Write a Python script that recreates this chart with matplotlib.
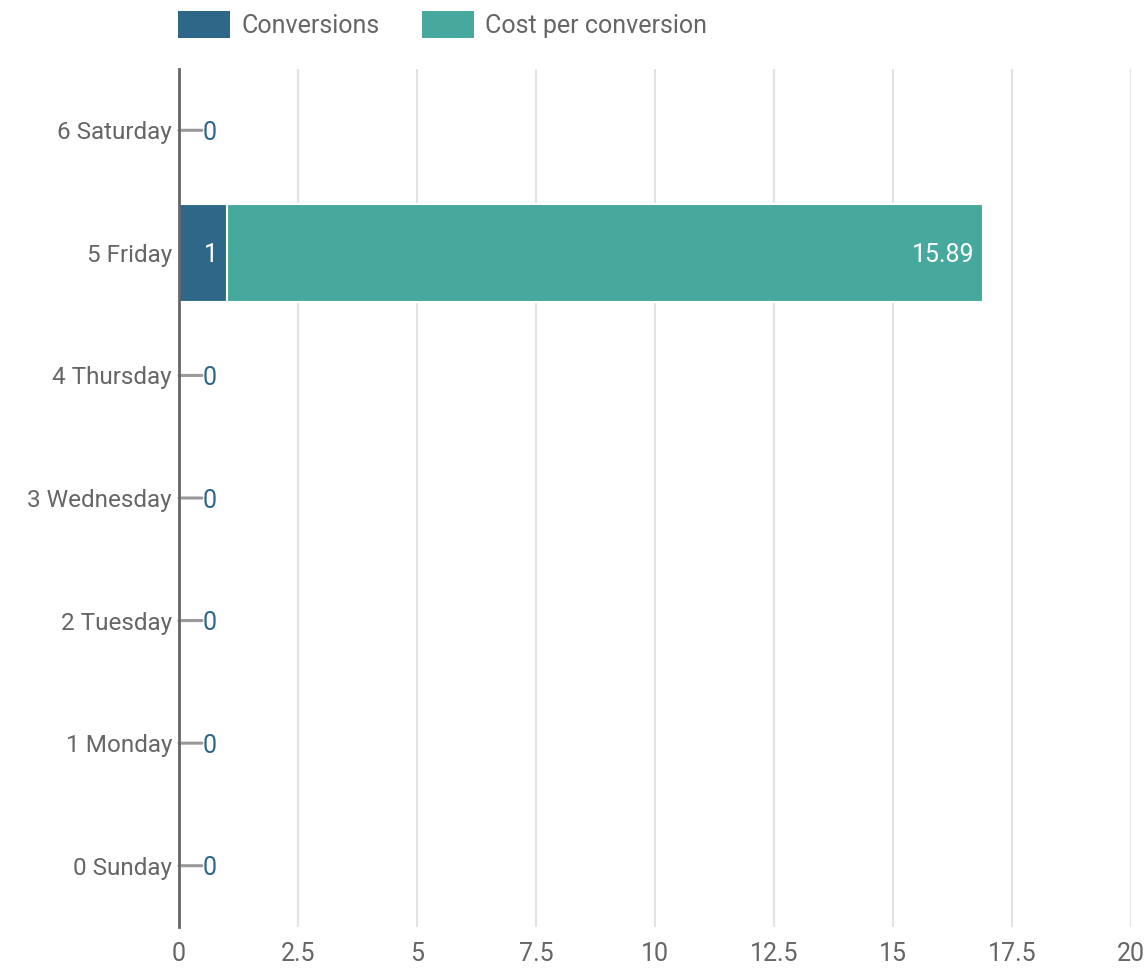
import matplotlib
matplotlib.use("Agg")
import matplotlib.pyplot as plt
from matplotlib.patches import Patch

days = ["0 Sunday", "1 Monday", "2 Tuesday", "3 Wednesday", "4 Thursday", "5 Friday", "6 Saturday"]
conversions = [0, 0, 0, 0, 0, 1, 0]
cost_per_conversion = [0, 0, 0, 0, 0, 15.89, 0]
x_ticks = [0, 2.5, 5, 7.5, 10, 12.5, 15, 17.5, 20]
x_tick_labels = ["0", "2.5", "5", "7.5", "10", "12.5", "15", "17.5", "20"]

c_conv = "#2f6788"
c_cost = "#47a99e"
text_grey = "#666666"

plt.rcParams["font.family"] = ["Roboto", "DejaVu Sans"]

fig = plt.figure(figsize=(11.48, 9.68), dpi=100)
ax = fig.add_axes([179 / 1148, 41 / 968, 952 / 1148, 858 / 968])

y = list(range(len(days)))
bar_h = 0.8
ax.barh(y, conversions, height=bar_h, color=c_conv, edgecolor="white", linewidth=1.5, zorder=3)
ax.barh(y, cost_per_conversion, left=conversions, height=bar_h, color=c_cost,
        edgecolor="white", linewidth=1.5, zorder=3)

fs = 18
for i, (cv, cp) in enumerate(zip(conversions, cost_per_conversion)):
    if cv > 0:
        ax.annotate(f"{cv:g}", xy=(cv, i), xytext=(-6, 0), textcoords="offset points",
                    ha="right", va="center_baseline", color="white", fontsize=fs, zorder=5)
    else:
        ax.annotate("", xy=(0, i), xytext=(16.5, 0), textcoords="offset points",
                    arrowprops=dict(arrowstyle="-", color="#999999", lw=2.2,
                                    shrinkA=0, shrinkB=0), zorder=4)
        ax.annotate(f"{cv:g}", xy=(0, i), xytext=(17, 0), textcoords="offset points",
                    ha="left", va="center_baseline", color=c_conv, fontsize=fs, zorder=5)
    if cp > 0:
        ax.annotate(f"{cp:.2f}", xy=(cv + cp, i), xytext=(-6, 0), textcoords="offset points",
                    ha="right", va="center_baseline", color="white", fontsize=fs, zorder=5)

ax.set_xlim(0, 20)
ax.set_ylim(-0.5, len(days) - 0.5)
ax.set_xticks(x_ticks)
ax.set_xticklabels(x_tick_labels)
ax.set_yticks(y)
ax.set_yticklabels(days)
ax.tick_params(axis="both", length=0, labelsize=fs, labelcolor=text_grey)
ax.tick_params(axis="y", labelsize=17.5, pad=5)
ax.tick_params(axis="x", pad=11)

ax.grid(axis="x", color="#e3e3e3", linewidth=1.5, zorder=0)
ax.set_axisbelow(True)
for side in ["top", "right", "bottom"]:
    ax.spines[side].set_visible(False)
ax.spines["left"].set_color("#666666")
ax.spines["left"].set_linewidth(2)
ax.spines["left"].set_zorder(6)

handles = [Patch(facecolor=c_conv, edgecolor="none", label="Conversions"),
           Patch(facecolor=c_cost, edgecolor="none", label="Cost per conversion")]
fig.legend(handles=handles, loc="upper left", bbox_to_anchor=(178 / 1148, 1 - 11 / 968),
           ncol=2, frameon=False, fontsize=fs, labelcolor=text_grey,
           handlelength=2.08, handleheight=1.3, handletextpad=0.45,
           columnspacing=1.7, borderpad=0, borderaxespad=0)

fig.savefig("out.png", dpi=100, facecolor="white")
